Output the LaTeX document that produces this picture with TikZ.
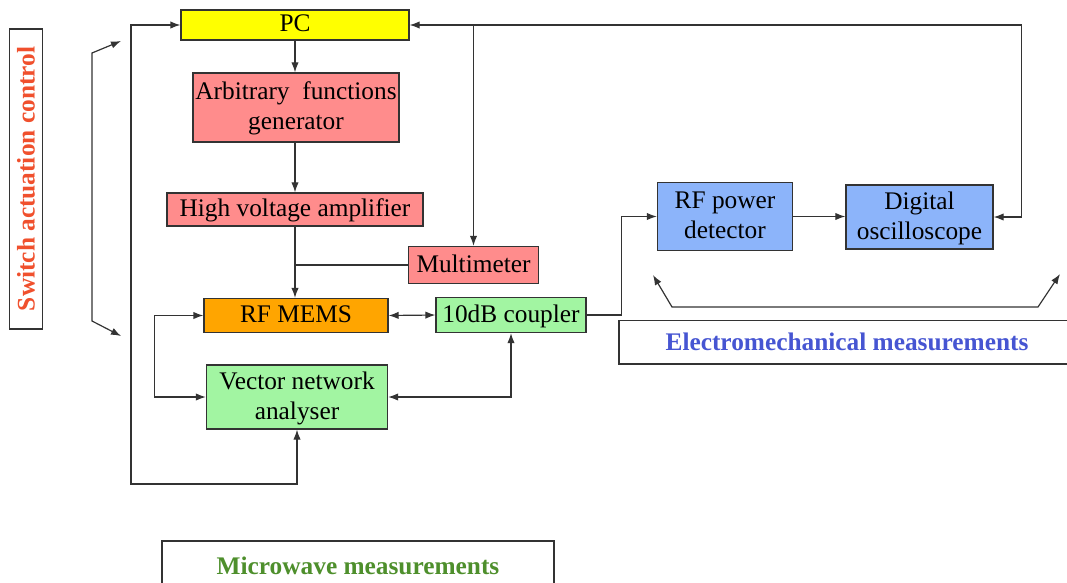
\documentclass[tikz,border=0pt]{standalone}
\usepackage{fontspec}
\setmainfont{Liberation Serif}
\usetikzlibrary{arrows.meta}
\definecolor{pcyellow}{HTML}{FFFF00}
\definecolor{ctrlpink}{HTML}{FF8C8C}
\definecolor{memsorange}{HTML}{FFA500}
\definecolor{mwgreen}{HTML}{A2F5A2}
\definecolor{emblue}{HTML}{8CB4FA}
\definecolor{ctrltext}{HTML}{F0502D}
\definecolor{mwtext}{HTML}{4E8F2C}
\definecolor{emtext}{HTML}{4655D2}
\colorlet{wire}{black!80}
\newcommand{\boxfont}{\fontsize{19}{22.5}\selectfont}
\newcommand{\tagfont}{\fontsize{19}{22.5}\selectfont\bfseries}
\tikzset{
  unit/.style={draw=wire,line width=0.9pt,inner sep=0pt,align=center,font=\boxfont,
    text depth=0.5ex},
  tagbox/.style={draw=wire,line width=0.9pt,inner sep=0pt,font=\tagfont},
  link/.style={draw=wire,line width=0.9pt},
}

\begin{document}
\begin{tikzpicture}[x=0.75pt,y=-0.75pt,>={Latex[length=7.5pt,width=5.5pt]}]
  \useasboundingbox (0,0) rectangle (1067,582);

  \node[tagbox,rotate=90,minimum width=225pt,minimum height=25pt,text=ctrltext]
    (swtag) at (26,179) {Switch actuation control};
  \node[tagbox,minimum width=294pt,minimum height=37.5pt,text=mwtext]
    (mwtag) at (358,566) {Microwave measurements};
  \node[tagbox,minimum width=342pt,minimum height=32.6pt,text=emtext]
    (emtag) at (847,342.3) {Electromechanical measurements};

  \node[unit,fill=pcyellow,minimum width=171pt,minimum height=22.5pt] (pc) at (295,25) {PC};
  \node[unit,fill=ctrlpink,minimum width=154.5pt,minimum height=51.8pt] (afg) at (296,107.5)
    {Arbitrary~ functions\\generator};
  \node[unit,fill=ctrlpink,minimum width=192pt,minimum height=24.8pt] (hva) at (295,209.5)
    {High voltage amplifier};
  \node[unit,fill=ctrlpink,minimum width=97.5pt,minimum height=27.8pt] (mm) at (473.5,265)
    {Multimeter};
  \node[unit,fill=memsorange,minimum width=138pt,minimum height=25.5pt] (mems) at (296,315.5)
    {RF MEMS};
  \node[unit,fill=mwgreen,minimum width=112.5pt,minimum height=26.3pt] (coupler) at (511,315)
    {10dB coupler};
  \node[unit,fill=mwgreen,minimum width=135.8pt,minimum height=48pt] (vna) at (297,397)
    {Vector network\\analyser};
  \node[unit,fill=emblue,minimum width=101.3pt,minimum height=51pt] (det) at (725,216.5)
    {RF power\\detector};
  \node[unit,fill=emblue,minimum width=110.3pt,minimum height=48pt] (osc) at (919.5,217)
    {Digital\\oscilloscope};

  \coordinate (oscbus) at (1021.5,25);
  \coordinate (loopsw) at (131,484);
  \coordinate (swtop) at (121,41);
  \coordinate (swbot) at (121,336);
  \coordinate (emleft) at (653,275);
  \coordinate (emright) at (1060,274);

  \draw[link,->] (pc.south) -- (pc.south |- afg.north);
  \draw[link,->] (afg.south -| pc.south) -- (hva.north);
  \draw[link,->] (hva.south) -- (hva.south |- mems.north);
  \draw[link] (mm.west) -- (mm.west -| hva.south);
  \draw[link,<->] (pc.east) -- (oscbus) |- (osc.east);
  \draw[link,->] (pc.east -| mm.north) -- (mm.north);
  \draw[link,<->] (pc.west) -| (loopsw) -| (vna.south);
  \draw[link,<->] (mems.east) -- (coupler.west);
  \draw[link,<->] (mems.west) -- ++(-49,0) |- (vna.west);
  \draw[link,<->] (vna.east) -| (coupler.south);
  \draw[link,->] (coupler.east) -- ++(35,0) |- (det.west);
  \draw[link,->] (det.east) -- (det.east -| osc.west);

  \draw[link,<->] (swtop) -- (92,53) -- (92,321) -- (swbot);
  \draw[link,<->] (emleft) -- (672,307) -- (1038,307) -- (emright);
\end{tikzpicture}
\end{document}
